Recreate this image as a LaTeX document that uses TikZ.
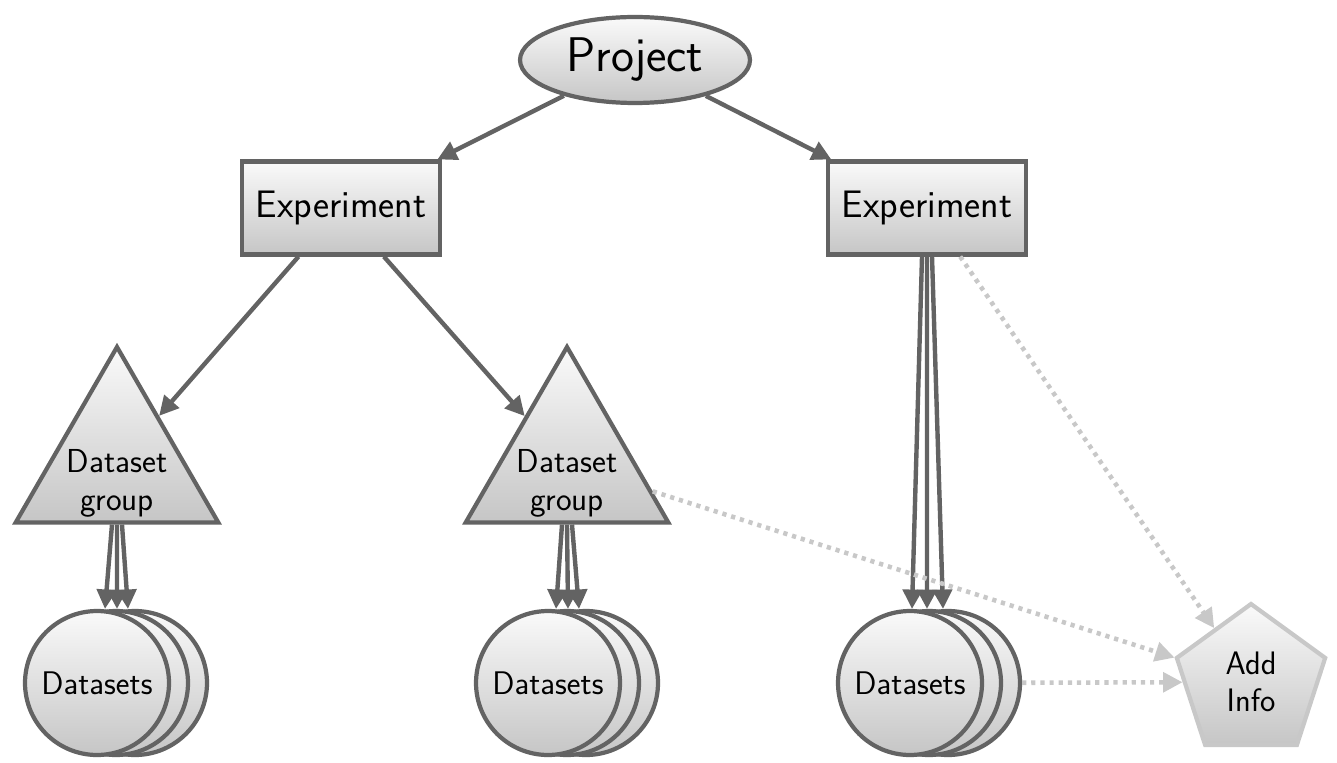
\documentclass[tikz,border=0pt]{standalone}
\usepackage{tikz}
\usetikzlibrary{shapes.geometric, arrows.meta, positioning}
\tikzset{>={Triangle[length=11pt,width=11pt]}}
\definecolor{edgegray}{RGB}{99,99,99}
\definecolor{infogray}{RGB}{200,200,200}
\newcommand{\grouptext}{\raisebox{-0.55cm}[0pt][0pt]{\makebox[0pt]{\begin{tabular}{@{}c@{}}Dataset\\group\end{tabular}}}}

\begin{document}
\begin{tikzpicture}[
  x=0.02cm, y=-0.02cm,
  shaded/.style={top color=gray!4, bottom color=gray!45, shading=axis},
  projectnode/.style={ellipse, shaded, draw=edgegray, line width=2.4pt, minimum width=4.6cm, minimum height=1.72cm, font=\sffamily\fontsize{27.7}{32}\selectfont},
  expnode/.style={rectangle, shaded, draw=edgegray, line width=2.4pt, minimum width=3.96cm, minimum height=1.86cm, font=\sffamily\fontsize{21.8}{26}\selectfont},
  groupnode/.style={regular polygon, regular polygon sides=3, shaded, draw=edgegray, line width=2.4pt, minimum size=4.68cm, inner sep=0pt, font=\sffamily\fontsize{18.9}{21.6}\selectfont},
  dsnode/.style={circle, shaded, draw=edgegray, line width=2.4pt, minimum size=2.88cm, inner sep=0pt, font=\sffamily\fontsize{18.6}{22}\selectfont},
  infonode/.style={regular polygon, regular polygon sides=5, shaded, draw=infogray, line width=2.4pt, minimum size=3.12cm, inner sep=0pt, align=center, font=\sffamily\fontsize{18.5}{21}\selectfont},
  edge/.style={->, edgegray, line width=2.5pt},
  infoedge/.style={->, infogray, line width=2.6pt, dash pattern=on 2.4pt off 2.8pt}
]
\useasboundingbox (0,0) rectangle (1337,763);

% Project and experiments
\node[projectnode] (project) at (635,60) {Project};
\node[expnode] (expL) at (341,208) {Experiment};
\node[expnode] (expR) at (927,208) {Experiment};

% Dataset groups
\node[groupnode] (grpL) at (117,464) {\grouptext};
\node[groupnode] (grpR) at (567,464) {\grouptext};

% Dataset stacks (back to front)
\foreach \n/\x in {L/97, M/548, R/910}{
  \node[dsnode] (ds\n3) at (\x+38,683) {};
  \node[dsnode] (ds\n2) at (\x+19,683) {};
  \node[dsnode] (ds\n1) at (\x,683) {Datasets};
}

% Additional info
\node[infonode] (info) at (1251,682) {Add\\Info};

% Hierarchy edges
\draw[edge] (project) -- (expL);
\draw[edge] (project) -- (expR);
\draw[edge] (expL) -- (grpL);
\draw[edge] (expL) -- (grpR);

% Edges into the dataset stacks
\foreach \src/\dst in {grpL/dsL, grpR/dsM}{
  \foreach \s/\e in {-0.1/0.16, 0/0.4, 0.1/0.62}
    \draw[edge] ([xshift=\s cm]\src.south) -- ([xshift=\e cm]\dst1.north);
}
\foreach \s/\e in {-0.1/0.04, 0/0.34, 0.1/0.66}
  \draw[edge] ([xshift=\s cm]expR.south) -- ([xshift=\e cm]dsR1.north);

% Links to the additional info
\draw[infoedge] (expR) -- (info);
\draw[infoedge] (grpR) -- (info);
\draw[infoedge] (dsR3) -- (info);

\end{tikzpicture}
\end{document}
